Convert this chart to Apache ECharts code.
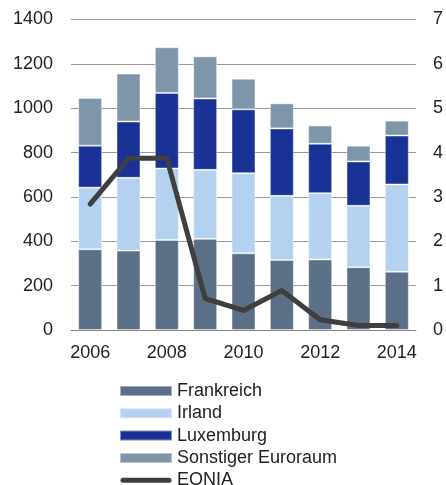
<!DOCTYPE html>
<html>
<head>
<meta charset="utf-8">
<script src="https://cdn.jsdelivr.net/npm/echarts@6/dist/echarts.min.js"></script>
<style>
  html, body { margin: 0; padding: 0; background: #fff; }
  #main { width: 446px; height: 485px; }
</style>
</head>
<body>
<div id="main"></div>
<script>
const years = ['2006', '2007', '2008', '2009', '2010', '2011', '2012', '2013', '2014']
const frankreich = [364, 358, 406, 411, 346, 316, 318, 283, 263]
const irland = [278, 328, 322, 311, 361, 289, 299, 277, 393]
const luxemburg = [189, 254, 341, 322, 288, 304, 223, 200, 221]
const sonstiger = [215, 216, 206, 190, 138, 113, 82, 71, 67]
const eonia = [2.84, 3.87, 3.87, 0.71, 0.44, 0.89, 0.23, 0.1, 0.1]
const leftTicks = [0, 1400, 200]
const rightTicks = [0, 7, 1]

const font = 'Liberation Sans, Arial, sans-serif'
const chart = echarts.init(document.getElementById('main'))

// thick line with round ends, padded to the 52x10 legend box
const lineIcon = 'path://M0,0L0,0M52,10L52,10M3,2.5L49,2.5A2.5,2.5 0 0 1 49,7.5L3,7.5A2.5,2.5 0 0 1 3,2.5Z'

const barSeries = (name, data, color) => ({
  name: name,
  type: 'bar',
  stack: 'total',
  data: data,
  barWidth: 24,
  itemStyle: { color: color, borderColor: 'rgba(255,255,255,0.45)', borderWidth: 1 },
  animation: false
})

chart.setOption({
  animation: false,
  textStyle: { fontFamily: font },
  grid: { left: 71, right: 28, top: 19.5, bottom: 155 },
  legend: {
    orient: 'vertical',
    left: 114,
    top: 377,
    height: 200,
    itemWidth: 52,
    itemHeight: 10,
    itemGap: 4.3,
    textStyle: { fontSize: 18, color: '#222', fontFamily: font, lineHeight: 18 },
    data: [
      { name: 'Frankreich', icon: 'rect' },
      { name: 'Irland', icon: 'rect' },
      { name: 'Luxemburg', icon: 'rect' },
      { name: 'Sonstiger Euroraum', icon: 'rect' },
      { name: 'EONIA', icon: lineIcon }
    ]
  },
  xAxis: {
    type: 'category',
    data: years,
    axisTick: { show: false },
    axisLine: { lineStyle: { color: '#888', width: 1 } },
    axisLabel: { interval: 1, fontSize: 18, color: '#222', margin: 14 }
  },
  yAxis: [
    {
      type: 'value',
      min: leftTicks[0], max: leftTicks[1], interval: leftTicks[2],
      axisLabel: { fontSize: 18, color: '#222', margin: 18, formatter: v => String(v) },
      splitLine: { lineStyle: { color: '#999', width: 1 } },
      axisLine: { show: false }, axisTick: { show: false }
    },
    {
      type: 'value',
      min: rightTicks[0], max: rightTicks[1], interval: rightTicks[2],
      axisLabel: { fontSize: 18, color: '#222', margin: 17 },
      splitLine: { show: false },
      axisLine: { show: false }, axisTick: { show: false }
    }
  ],
  series: [
    barSeries('Frankreich', frankreich, '#5b7086'),
    barSeries('Irland', irland, '#b4d1ef'),
    barSeries('Luxemburg', luxemburg, '#1a3195'),
    barSeries('Sonstiger Euroraum', sonstiger, '#7f95a9'),
    {
      name: 'EONIA',
      type: 'line',
      yAxisIndex: 1,
      data: eonia,
      symbol: 'none',
      lineStyle: { color: '#3f3f3f', width: 5, cap: 'round', join: 'round' },
      itemStyle: { color: '#3f3f3f' },
      z: 5
    }
  ]
})
</script>
</body>
</html>
